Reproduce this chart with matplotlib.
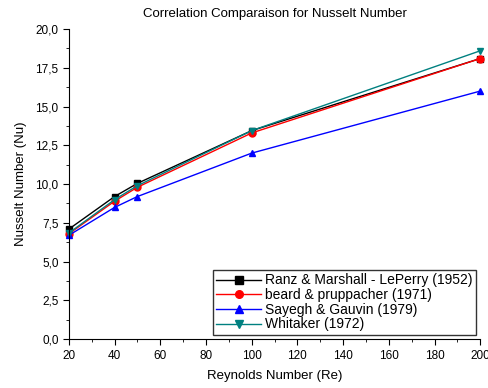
import matplotlib
matplotlib.use('Agg')
import matplotlib.pyplot as plt
from matplotlib.ticker import FuncFormatter, MultipleLocator

re_vals = [20, 40, 50, 100, 200]
nu_ranz = [7.1, 9.2, 10.05, 13.45, 18.1]
nu_beard = [6.8, 8.9, 9.8, 13.3, 18.1]
nu_sayegh = [6.7, 8.5, 9.2, 12.0, 16.0]
nu_whitaker = [6.85, 9.0, 9.9, 13.45, 18.6]

labels = ['Ranz & Marshall - LePerry (1952)', 'beard & pruppacher (1971)',
          'Sayegh & Gauvin (1979)', 'Whitaker (1972)']
colors = ['black', 'red', 'blue', '#008080']
markers = ['s', 'o', '^', 'v']

plt.rcParams['font.family'] = ['Liberation Sans', 'DejaVu Sans']

fig = plt.figure(figsize=(4.89, 3.88), dpi=100)
ax = fig.add_axes([0.141, 0.126, 0.841, 0.799])

for y, lab, c, m in zip([nu_ranz, nu_beard, nu_sayegh, nu_whitaker], labels, colors, markers):
    ax.plot(re_vals, y, color=c, marker=m, markersize=5, lw=1, label=lab, clip_on=False)

ax.set_xlim(20, 200)
ax.set_ylim(0, 20)
ax.xaxis.set_major_locator(MultipleLocator(20))
ax.xaxis.set_minor_locator(MultipleLocator(10))
ax.yaxis.set_major_locator(MultipleLocator(2.5))
ax.yaxis.set_minor_locator(MultipleLocator(1.25))
ax.yaxis.set_major_formatter(FuncFormatter(lambda v, p: f'{v:.1f}'.replace('.', ',')))
ax.tick_params(which='both', direction='out', labelsize=8.5)
ax.tick_params(which='major', length=4)
ax.tick_params(which='minor', length=2)
ax.spines['top'].set_visible(False)
ax.spines['right'].set_visible(False)

ax.set_title('Correlation Comparaison for Nusselt Number', fontsize=9.5, pad=9)
ax.set_xlabel('Reynolds Number (Re)', fontsize=9.5, labelpad=6)
ax.set_ylabel('Nusselt Number (Nu)', fontsize=9.5, labelpad=6)

leg = ax.legend(loc='lower right', fontsize=10, frameon=True, fancybox=False,
                edgecolor='black', borderpad=0.25, labelspacing=0.05,
                handlelength=3.2, handletextpad=0.3, borderaxespad=0.3,
                markerscale=1.1)
leg.get_frame().set_linewidth(1)

fig.savefig('out.png', dpi=100)
